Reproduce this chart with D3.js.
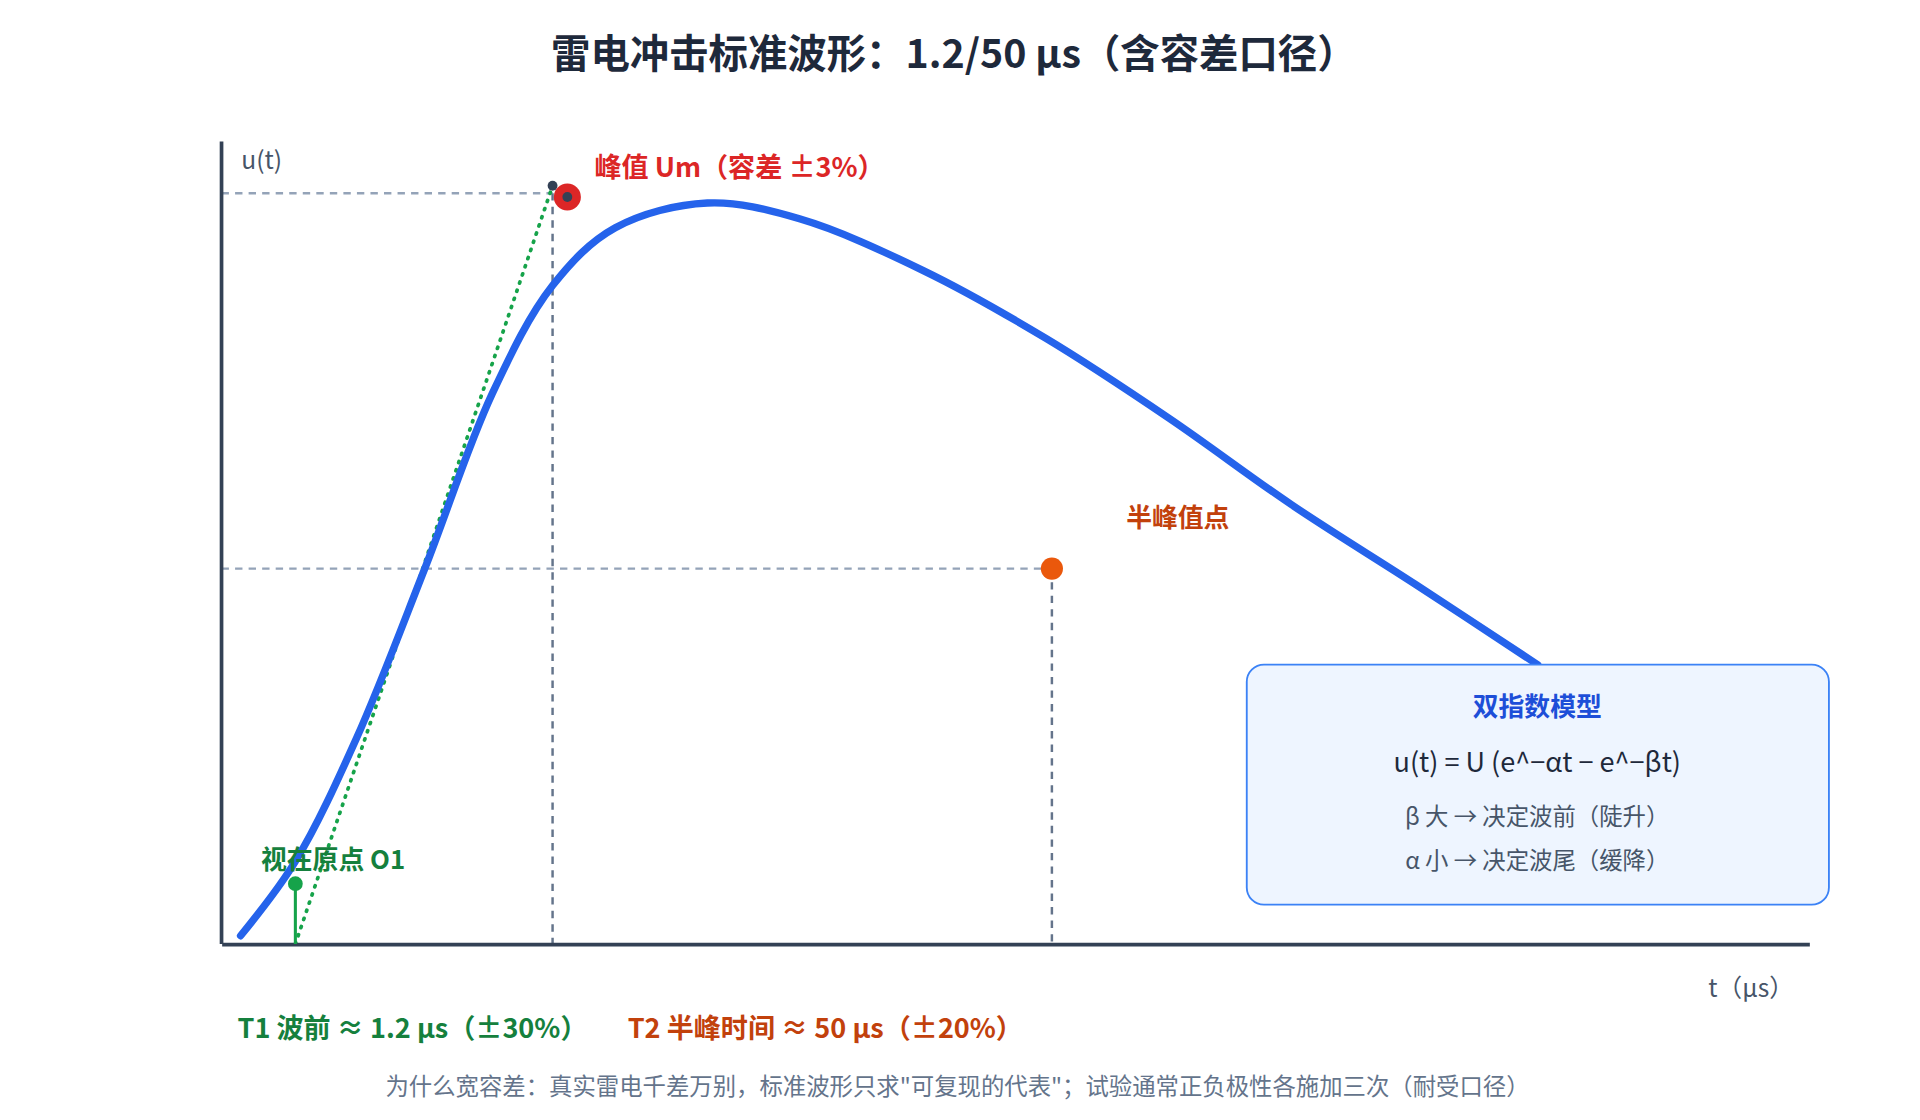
<!DOCTYPE html>
<html><head><meta charset="utf-8">
<script src="https://cdn.jsdelivr.net/npm/d3@7"></script>
<style>body{margin:0;background:#fff}svg{display:block;font-family:"Noto Sans CJK SC","Noto Sans",sans-serif}</style>
</head><body>
<svg width="1920" height="1120" viewBox="0 0 1560 910"></svg>
<script>
// waveform samples (t in plot units, u relative to Um)
var curveT = [1.2, 4.65, 8.5, 12.8, 17.05, 20.85, 24.8, 30.6, 36.4, 44.2, 51.9, 59.7, 67.4, 75.2, 82.9];
var curveU = [0.011, 0.11, 0.274, 0.5, 0.733, 0.877, 0.954, 0.987, 0.966, 0.897, 0.807, 0.70, 0.585, 0.479, 0.372];
var peakT = 20.85, halfT = 52.3, originT = 4.65;
var peakU = 1, halfU = 0.5;

var svg = d3.select('svg');
var x = d3.scaleLinear().domain([0, 100]).range([180, 1470]);
var y = d3.scaleLinear().domain([0, 1]).range([767, 157]);

svg.append('text').attr('x', 775).attr('y', 55).attr('text-anchor', 'middle')
  .style('font-size', '32px').style('font-weight', 'bold').attr('fill', '#1e293b')
  .text('雷电冲击标准波形：1.2/50 μs（含容差口径）');

// guide lines
var dash = svg.append('g').attr('stroke', '#64748b').attr('stroke-width', 2).attr('stroke-dasharray', '6,5').attr('fill', 'none');
dash.append('line').attr('x1', x(0)).attr('x2', x(peakT)).attr('y1', y(peakU)).attr('y2', y(peakU)).attr('stroke', '#94a3b8');
dash.append('line').attr('x1', x(peakT)).attr('x2', x(peakT)).attr('y1', y(peakU)).attr('y2', y(0));
dash.append('line').attr('x1', x(0)).attr('x2', x(halfT)).attr('y1', y(halfU)).attr('y2', y(halfU)).attr('stroke', '#94a3b8');
dash.append('line').attr('x1', x(halfT)).attr('x2', x(halfT)).attr('y1', y(halfU)).attr('y2', y(0));

// front line through apparent origin
svg.append('line').attr('x1', x(originT)).attr('y1', y(0)).attr('x2', x(peakT)).attr('y2', y(1.01))
  .attr('stroke', '#16a34a').attr('stroke-width', 3).attr('stroke-dasharray', '1,6').attr('stroke-linecap', 'round');

var pts = curveT.map((t, i) => [t, curveU[i]]);
svg.append('path').datum(pts)
  .attr('d', d3.line().x(d => x(d[0])).y(d => y(d[1])).curve(d3.curveCatmullRom))
  .attr('fill', 'none').attr('stroke', '#2563eb').attr('stroke-width', 6).attr('stroke-linecap', 'round');

// axes
svg.append('g').attr('transform', 'translate(0,' + y(0) + ')')
  .call(d3.axisBottom(x).tickValues([]).tickSizeOuter(0))
  .select('.domain').attr('stroke', '#334155').attr('stroke-width', 3);
svg.append('line').attr('x1', 180).attr('x2', 180).attr('y1', 115).attr('y2', 767).attr('stroke', '#334155').attr('stroke-width', 3);

// markers
svg.append('circle').attr('cx', x(peakT)).attr('cy', y(1.01)).attr('r', 4).attr('fill', '#334155');
svg.append('circle').attr('cx', x(peakT) + 12).attr('cy', y(0.995)).attr('r', 11).attr('fill', '#dc2626');
svg.append('circle').attr('cx', x(peakT) + 12).attr('cy', y(0.995)).attr('r', 4).attr('fill', '#334155');
svg.append('circle').attr('cx', x(halfT)).attr('cy', y(halfU)).attr('r', 9).attr('fill', '#ea580c');
svg.append('line').attr('x1', x(originT)).attr('x2', x(originT)).attr('y1', 718).attr('y2', y(0)).attr('stroke', '#16a34a').attr('stroke-width', 2.5);
svg.append('circle').attr('cx', x(originT)).attr('cy', 718).attr('r', 6).attr('fill', '#16a34a');

function label(tx, px, py, color, size, weight, anchor) {
  return svg.append('text').attr('x', px).attr('y', py).attr('fill', color)
    .style('font-size', size + 'px').style('font-weight', weight || 'normal')
    .attr('text-anchor', anchor || 'start').text(tx);
}
label('u(t)', 196, 137, '#475569', 20);
label('峰值 Um（容差 ±3%）', 483, 144, '#dc2626', 22, 'bold');
label('半峰值点', 915, 428, '#c2410c', 21, 'bold');
label('视在原点 O1', 212, 706, '#15803d', 21, 'bold');
label('t（μs）', 1388, 810, '#475569', 20);
label('T1 波前 ≈ 1.2 μs（±30%）', 193, 843, '#15803d', 22, 'bold');
label('T2 半峰时间 ≈ 50 μs（±20%）', 510, 843, '#c2410c', 22, 'bold');
label('为什么宽容差：真实雷电千差万别，标准波形只求"可复现的代表"；试验通常正负极性各施加三次（耐受口径）', 778, 890, '#64748b', 19, 'normal', 'middle');

// model box
svg.append('rect').attr('x', 1013).attr('y', 540).attr('width', 473).attr('height', 195).attr('rx', 14)
  .attr('fill', '#eef5ff').attr('stroke', '#3b82f6').attr('stroke-width', 1.5);
label('双指数模型', 1249, 582, '#1d4ed8', 21, 'bold', 'middle');
label('u(t) = U (e^−αt − e^−βt)', 1249, 627, '#1e293b', 22, 'normal', 'middle');
label('β 大 → 决定波前（陡升）', 1249, 670, '#475569', 19, 'normal', 'middle');
label('α 小 → 决定波尾（缓降）', 1249, 706, '#475569', 19, 'normal', 'middle');
</script>
</body></html>
